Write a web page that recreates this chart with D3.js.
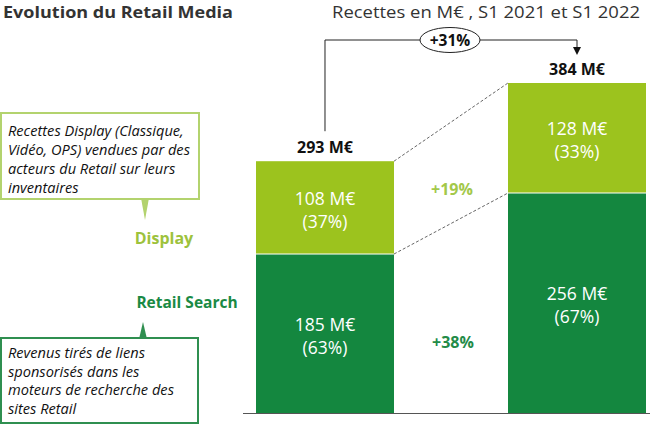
<!DOCTYPE html>
<html><head><meta charset="utf-8">
<script src="https://cdn.jsdelivr.net/npm/d3@7"></script>
<style>
html,body{margin:0;padding:0;background:#fff;}
svg{display:block;font-family:"Open Sans",sans-serif;}
</style></head>
<body>
<svg id="chart" width="650" height="425"></svg>
<script>
// ---- data ----
const categories = ["S1 2021", "S1 2022"];
const seriesNames = ["Retail Search", "Display"];
const searchValues = [185, 256];
const displayValues = [108, 128];
const searchShares = ["63%", "67%"];
const displayShares = ["37%", "33%"];
const totals = [293, 384];
const growthSearch = "+38%";
const growthDisplay = "+19%";
const growthTotal = "+31%";
const displayNote = ["Recettes Display (Classique,", "Vidéo, OPS) vendues par des", "acteurs du Retail sur leurs", "inventaires"];
const searchNote = ["Revenus tirés de liens", "sponsorisés dans les", "moteurs de recherche des", "sites Retail"];

const lightGreen = "#9cc31e";
const darkGreen = "#14873f";

const svg = d3.select("#chart");

const x = d3.scaleBand().domain(categories).range([256, 646]).paddingInner(0.4524).paddingOuter(0);
const y = d3.scaleLinear().domain([0, d3.max(totals)]).range([413, 83]);

const stackData = categories.map((c, i) => ({cat: c, search: searchValues[i], display: displayValues[i]}));
const stack = d3.stack().keys(["search", "display"])(stackData);
const colors = {search: darkGreen, display: lightGreen};
const shares = {search: searchShares, display: displayShares};

// title
svg.append("text").attr("x", 3).attr("y", 18).attr("font-size", 16.8).attr("font-weight", 700)
  .attr("fill", "#333").attr("textLength", 230).attr("lengthAdjust", "spacingAndGlyphs").text("Evolution du Retail Media");
svg.append("text").attr("x", 332).attr("y", 18).attr("font-size", 16.8)
  .attr("fill", "#333").attr("textLength", 308).attr("lengthAdjust", "spacingAndGlyphs").text("Recettes en M€ , S1 2021 et S1 2022");

// bars
stack.forEach(layer => {
  const g = svg.append("g");
  layer.forEach((d, i) => {
    g.append("rect")
      .attr("x", x(d.data.cat)).attr("width", x.bandwidth())
      .attr("y", y(d[1])).attr("height", y(d[0]) - y(d[1]))
      .attr("fill", colors[layer.key]);
    const cy = (y(d[0]) + y(d[1])) / 2;
    const cx = x(d.data.cat) + x.bandwidth() / 2;
    g.append("text").attr("x", cx).attr("y", cy - 3).attr("text-anchor", "middle")
      .attr("font-size", 17.5).attr("fill", "#fff").text(`${d[1] - d[0]} M€`);
    g.append("text").attr("x", cx).attr("y", cy + 20).attr("text-anchor", "middle")
      .attr("font-size", 17.5).attr("fill", "#fff").text(`(${shares[layer.key][i]})`);
  });
});
// separator line between segments
categories.forEach((c, i) => {
  svg.append("line").attr("x1", x(c)).attr("x2", x(c) + x.bandwidth())
    .attr("y1", y(searchValues[i])).attr("y2", y(searchValues[i]))
    .attr("stroke", "#fff").attr("stroke-width", 1);
});

// axis baseline
svg.append("line").attr("x1", 243).attr("x2", 650).attr("y1", y(0) + 0.5).attr("y2", y(0) + 0.5)
  .attr("stroke", "#555").attr("stroke-width", 1.2);

// totals
categories.forEach((c, i) => {
  svg.append("text").attr("x", x(c) + x.bandwidth() / 2).attr("y", y(totals[i]) - 8)
    .attr("text-anchor", "middle").attr("font-size", 16).attr("font-weight", 700).attr("fill", "#111")
    .text(`${totals[i]} M€`);
});

// dashed connectors
const x0r = x(categories[0]) + x.bandwidth(), x1l = x(categories[1]);
[[totals[0], totals[1]], [searchValues[0], searchValues[1]]].forEach(([a, b]) => {
  svg.append("line").attr("x1", x0r).attr("y1", y(a)).attr("x2", x1l).attr("y2", y(b))
    .attr("stroke", "#555").attr("stroke-width", 0.9).attr("stroke-dasharray", "3,2");
});

// growth labels
svg.append("text").attr("x", 452).attr("y", 195).attr("text-anchor", "middle").attr("font-size", 16)
  .attr("font-weight", 700).attr("fill", "#a3c84a").text(growthDisplay);
svg.append("text").attr("x", 453).attr("y", 348).attr("text-anchor", "middle").attr("font-size", 16)
  .attr("font-weight", 700).attr("fill", "#238b48").text(growthSearch);

// total growth bracket
const bx0 = x(categories[0]) + x.bandwidth() / 2, bx1 = x(categories[1]) + x.bandwidth() / 2;
const by = 40;
svg.append("path").attr("d", `M${bx0},${y(totals[0]) - 30} V${by} H${bx1} V${by + 8}`)
  .attr("fill", "none").attr("stroke", "#222").attr("stroke-width", 1);
svg.append("path").attr("d", `M${bx1 - 4},${by + 7} L${bx1 + 4},${by + 7} L${bx1},${by + 15} Z`).attr("fill", "#111");
svg.append("ellipse").attr("cx", 450).attr("cy", by).attr("rx", 30).attr("ry", 12.5)
  .attr("fill", "#fff").attr("stroke", "#222").attr("stroke-width", 1);
svg.append("text").attr("x", 450).attr("y", by + 6).attr("text-anchor", "middle").attr("font-size", 15.5)
  .attr("font-weight", 700).attr("fill", "#111").text(growthTotal);

// series labels
svg.append("text").attr("x", 164).attr("y", 244).attr("text-anchor", "middle").attr("font-size", 16)
  .attr("font-weight", 700).attr("fill", "#9dc23c").text(seriesNames[1]);
svg.append("text").attr("x", 187).attr("y", 308).attr("text-anchor", "middle").attr("font-size", 15.5)
  .attr("font-weight", 700).attr("fill", "#1a8a44").text(seriesNames[0]);

// callout boxes
function callout(bx, byy, w, h, stroke, lines, firstBase, lh, tipX, tipY, tipBaseY) {
  svg.append("path").attr("d", `M${tipX - 4},${tipBaseY} L${tipX + 4},${tipBaseY} L${tipX},${tipY} Z`).attr("fill", stroke);
  svg.append("rect").attr("x", bx).attr("y", byy).attr("width", w).attr("height", h)
    .attr("fill", "#fff").attr("stroke", stroke).attr("stroke-width", 2);
  lines.forEach((t, i) => {
    svg.append("text").attr("x", bx + 7).attr("y", firstBase + i * lh).attr("font-size", 14.6)
      .attr("font-style", "italic").attr("fill", "#111").text(t);
  });
}
callout(1, 113, 198, 86, "#b3d36e", displayNote, 136, 19, 145, 220, 198);
callout(1, 338, 197, 85, "#2f8f50", searchNote, 358, 18.5, 143, 322, 339);
</script>
</body></html>
